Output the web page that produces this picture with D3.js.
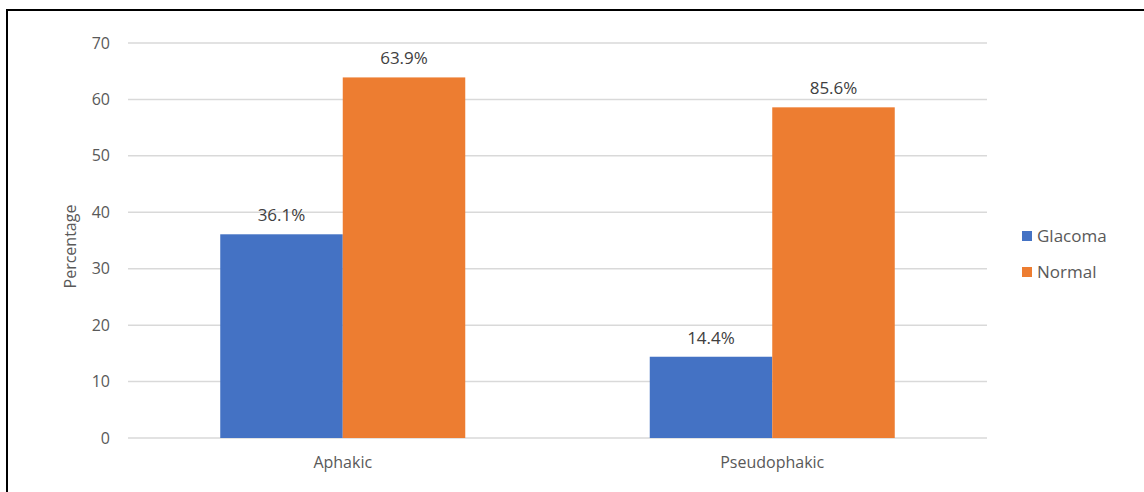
<!DOCTYPE html>
<html>
<head>
<meta charset="utf-8">
<script src="https://cdn.jsdelivr.net/npm/d3@7"></script>
<style>
  html, body { margin: 0; padding: 0; background: #fff; }
  svg { display: block; }
  text { font-family: "Open Sans", "Noto Sans", sans-serif; }
</style>
</head>
<body>
<svg id="chart" width="1144" height="492"></svg>
<script>
// Lens status groups
const categories = ["Aphakic", "Pseudophakic"];
const seriesNames = ["Glacoma", "Normal"];
// Bar heights (percent)
const glacomaValues = [36.1, 14.4];
const normalValues = [63.9, 58.6];
// Printed shares above the bars
const glacomaLabels = ["36.1%", "14.4%"];
const normalLabels = ["63.9%", "85.6%"];
const yTicks = [0, 10, 20, 30, 40, 50, 60, 70];
const colors = ["#4472C4", "#ED7D31"];

const svg = d3.select("#chart");

// outer frame of the figure
svg.append("rect")
  .attr("x", 7).attr("y", 10)
  .attr("width", 1160).attr("height", 500)
  .attr("fill", "none")
  .attr("stroke", "#000")
  .attr("stroke-width", 2);

const plot = { left: 128, right: 987, top: 43, bottom: 438 };

const x = d3.scaleBand()
  .domain(categories)
  .range([plot.left, plot.right])
  .padding(0);

const xSub = d3.scaleBand()
  .domain(seriesNames)
  .range([0, x.bandwidth()])
  .paddingInner(0)
  .paddingOuter(0.753);

const y = d3.scaleLinear()
  .domain([0, 70])
  .range([plot.bottom, plot.top]);

// horizontal gridlines
svg.append("g")
  .selectAll("line")
  .data(yTicks)
  .join("line")
  .attr("x1", plot.left).attr("x2", plot.right)
  .attr("y1", d => y(d)).attr("y2", d => y(d))
  .attr("stroke", "#D9D9D9")
  .attr("stroke-width", 1.5);

// y axis tick labels
const yAxis = d3.axisLeft(y).tickValues(yTicks).tickSize(0).tickPadding(0);
svg.append("g")
  .attr("transform", `translate(${plot.left - 18},0)`)
  .call(yAxis)
  .call(g => g.select(".domain").remove())
  .call(g => g.selectAll("text")
    .attr("fill", "#595959")
    .style("font-size", "16px")
    .style("font-family", "'Open Sans', sans-serif"));

// category axis labels
const xAxis = d3.axisBottom(x).tickSize(0).tickPadding(0);
svg.append("g")
  .attr("transform", `translate(0,${plot.bottom + 19})`)
  .call(xAxis)
  .call(g => g.select(".domain").remove())
  .call(g => g.selectAll("text")
    .attr("fill", "#595959")
    .style("font-size", "16px")
    .style("font-family", "'Open Sans', sans-serif"));

// y axis title
svg.append("text")
  .attr("transform", `translate(76,${(plot.top + plot.bottom) / 2 + 6}) rotate(-90)`)
  .attr("text-anchor", "middle")
  .attr("fill", "#595959")
  .style("font-size", "16px")
  .text("Percentage");

const rows = categories.map((c, i) => ({
  category: c,
  bars: [
    { series: seriesNames[0], value: glacomaValues[i], label: glacomaLabels[i], color: colors[0] },
    { series: seriesNames[1], value: normalValues[i], label: normalLabels[i], color: colors[1] }
  ]
}));

const groups = svg.append("g")
  .selectAll("g")
  .data(rows)
  .join("g")
  .attr("transform", d => `translate(${x(d.category)},0)`);

groups.selectAll("rect")
  .data(d => d.bars)
  .join("rect")
  .attr("x", d => xSub(d.series))
  .attr("width", xSub.bandwidth())
  .attr("y", d => y(d.value))
  .attr("height", d => y(0) - y(d.value))
  .attr("fill", d => d.color);

groups.selectAll("text.value")
  .data(d => d.bars)
  .join("text")
  .attr("class", "value")
  .attr("x", d => xSub(d.series) + xSub.bandwidth() / 2)
  .attr("y", d => y(d.value) - 13)
  .attr("text-anchor", "middle")
  .attr("fill", "#404040")
  .style("font-size", "17px")
  .text(d => d.label);

// legend
const legend = svg.append("g")
  .selectAll("g")
  .data(seriesNames)
  .join("g")
  .attr("transform", (d, i) => `translate(1022,${231 + i * 36})`);

legend.append("rect")
  .attr("width", 10).attr("height", 10)
  .attr("fill", (d, i) => colors[i]);

legend.append("text")
  .attr("x", 15).attr("y", 11)
  .attr("fill", "#595959")
  .style("font-size", "17px")
  .text(d => d);
</script>
</body>
</html>
